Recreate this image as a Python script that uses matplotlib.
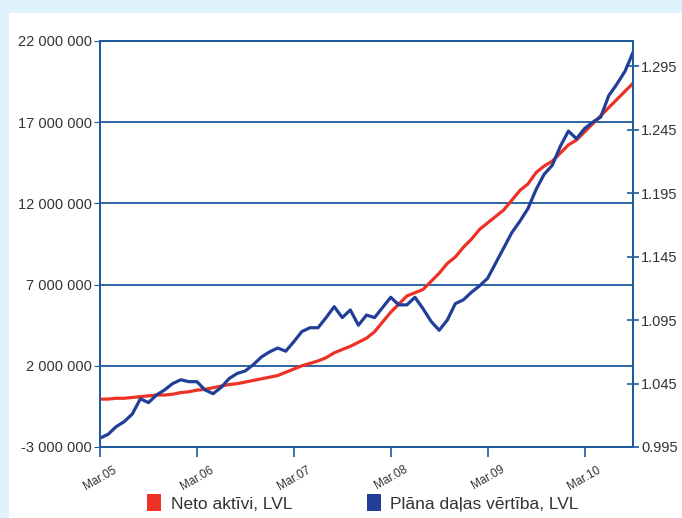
import matplotlib
matplotlib.use("Agg")
import matplotlib.pyplot as plt
from matplotlib.patches import Patch, Rectangle
from matplotlib.ticker import FuncFormatter

plt.rcParams["font.family"] = ["Liberation Sans", "DejaVu Sans"]

# monthly data, Mar.05 .. Sep.10
months = list(range(67))
tick_labels = ["Mar.05", "Mar.06", "Mar.07", "Mar.08", "Mar.09", "Mar.10"]
tick_pos = [0, 12, 24, 36, 48, 60]

# Neto aktivi, LVL (millions)
net_assets = [
    -0.05, -0.05, 0.0, 0.0, 0.05, 0.1, 0.15, 0.2, 0.2, 0.25, 0.35, 0.4,
    0.5, 0.55, 0.65, 0.75, 0.85, 0.9, 1.0, 1.1, 1.2, 1.3, 1.4, 1.6,
    1.8, 2.0, 2.15, 2.3, 2.5, 2.8, 3.0, 3.2, 3.45, 3.7, 4.1, 4.7,
    5.3, 5.8, 6.3, 6.5, 6.7, 7.2, 7.7, 8.3, 8.7, 9.3, 9.8, 10.4,
    10.8, 11.2, 11.6, 12.2, 12.8, 13.2, 13.9, 14.3, 14.6, 15.1, 15.6, 15.9,
    16.4, 16.9, 17.4, 17.9, 18.4, 18.9, 19.4,
]

# Plana dalas vertiba, LVL
unit_value = [
    1.002, 1.005, 1.011, 1.015, 1.021, 1.033, 1.030, 1.036, 1.040, 1.045, 1.048, 1.0465,
    1.0465, 1.040, 1.037, 1.042, 1.049, 1.053, 1.055, 1.060, 1.066, 1.070, 1.073, 1.0705,
    1.078, 1.086, 1.089, 1.089, 1.097, 1.1056, 1.097, 1.103, 1.091, 1.099, 1.097, 1.105,
    1.113, 1.107, 1.107, 1.113, 1.104, 1.094, 1.087, 1.095, 1.108, 1.111, 1.117, 1.122,
    1.128, 1.140, 1.152, 1.164, 1.173, 1.183, 1.198, 1.210, 1.217, 1.232, 1.244, 1.238,
    1.246, 1.251, 1.255, 1.272, 1.281, 1.291, 1.306,
]

red = "#ee3125"
blue = "#223f98"
line_blue = "#1d5b9e"
txt = "#333333"

fig = plt.figure(figsize=(6.82, 5.18), dpi=100, facecolor="#e0f2fc")
fig.patches.append(Rectangle((9 / 682, 0), 1, 1 - 13 / 518, transform=fig.transFigure,
                             facecolor="white", edgecolor="none", zorder=-10))

ax = fig.add_axes([100 / 682, 1 - 447 / 518, 533 / 682, 406 / 518])
ax.set_facecolor("white")
ax.plot(months, [v * 1e6 for v in net_assets], color=red, lw=2.3, solid_capstyle="butt")
ax.set_ylim(-3e6, 22e6)
ax.set_yticks([-3e6, 2e6, 7e6, 12e6, 17e6, 22e6])
ax.yaxis.set_major_formatter(FuncFormatter(lambda v, p: f"{int(v):,}".replace(",", " ")))
ax.set_xlim(0, 66)
ax.set_xticks(tick_pos)
ax.set_xticklabels(tick_labels, rotation=30, ha="center", fontsize=8.5, color=txt)
ax.grid(axis="y", color=line_blue, lw=1.3)
ax.set_axisbelow(True)
ax.tick_params(axis="y", labelsize=10.5, labelcolor=txt, color=line_blue, length=4, pad=2)
ax.tick_params(axis="x", color=line_blue, length=7, width=1.2, pad=5)
for s in ax.spines.values():
    s.set_color(line_blue)
    s.set_linewidth(1.3)

ax2 = ax.twinx()
ax2.plot(months, unit_value, color=blue, lw=2.3)
ax2.set_ylim(0.995, 1.315)
ax2.set_yticks([0.995, 1.045, 1.095, 1.145, 1.195, 1.245, 1.295])
ax2.yaxis.set_major_formatter(FuncFormatter(lambda v, p: f"{v:.3f}"))
ax2.tick_params(axis="y", labelsize=10.5, labelcolor=txt, color=line_blue,
                direction="inout", length=8, width=1.2, pad=2)
for s in ax2.spines.values():
    s.set_color(line_blue)
    s.set_linewidth(1.3)

handles = [Patch(facecolor=red, edgecolor="none", label="Neto aktīvi, LVL"),
           Patch(facecolor=blue, edgecolor="none", label="Plāna daļas vērtība, LVL")]
fig.legend(handles=handles, loc="lower left", bbox_to_anchor=(137 / 682, -0.008), ncol=2,
           frameon=False, fontsize=12.5, handlelength=0.8, handleheight=1.1,
           handletextpad=0.55, columnspacing=4.3, borderpad=0.1, labelcolor=txt)

fig.savefig("out.png", dpi=100, facecolor=fig.get_facecolor())
